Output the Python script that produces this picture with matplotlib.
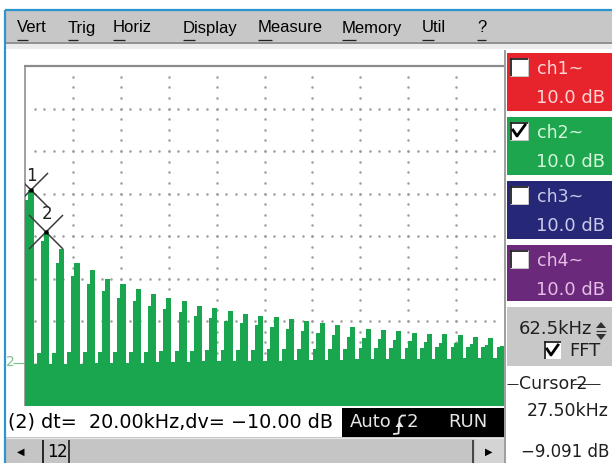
import numpy as np
import matplotlib
matplotlib.use('Agg')
import matplotlib.pyplot as plt
from matplotlib.patches import Rectangle, Polygon

# ---------------- data ----------------
freq_khz = [7.5, 27.5, 47.5, 67.5, 87.5, 107.5, 127.5, 147.5, 167.5, 187.5,
            207.5, 227.5, 247.5, 267.5, 287.5, 307.5, 327.5, 347.5, 367.5, 387.5,
            407.5, 427.5, 447.5, 467.5, 487.5, 507.5, 527.5, 547.5, 567.5, 587.5,
            607.5, 627.5]
peak_db = [0.9, -9.1, -13.0, -16.3, -18.1, -20.0, -21.2, -22.4, -23.6, -24.5,
           -25.2, -26.4, -26.9, -27.6, -28.3, -28.8, -29.0, -29.5, -29.9, -30.4,
           -30.9, -31.4, -31.8, -32.1, -32.3, -32.8, -33.0, -33.0, -33.2, -33.7,
           -34.0, -34.3]
step_db = [-1.6, -11.1, -16.3, -19.3, -21.2, -22.9, -24.5, -25.2, -26.4, -27.1,
           -27.8, -28.8, -29.2, -29.9, -30.4, -30.9, -31.4, -31.8, -32.3, -32.8,
           -33.2, -33.7, -34.0, -34.2, -34.5, -34.7, -34.9, -35.1, -35.1, -35.4,
           -35.6, -35.8]
shoulder_db = [-37.5, -37.5, -37.5, -37.4, -37.4, -37.3, -37.3, -37.2, -37.2, -37.1,
               -37.0, -37.0, -36.9, -36.9, -36.8, -36.8, -36.7, -36.7, -36.6, -36.6,
               -36.5, -36.5, -36.4, -36.4, -36.3, -36.3, -36.3, -36.2, -36.2, -36.2,
               -36.1, -36.1]
floor_db = [-40.1, -40.1, -40.0, -40.0, -39.9, -39.9, -39.8, -39.8, -39.7, -39.6,
            -39.6, -39.5, -39.5, -39.4, -39.4, -39.3, -39.3, -39.2, -39.2, -39.1,
            -39.1, -39.0, -39.0, -39.0, -38.9, -38.9, -38.9, -38.9, -38.8, -38.8,
            -38.8, -38.8]
cursor_khz = [7.5, 27.5]
cursor_db = [0.909, -9.091]
cursor_labels = ['1', '2']

menu_items = ['Vert', 'Trig', 'Horiz', 'Display', 'Measure', 'Memory', 'Util', '?']
channels = ['ch1~', 'ch2~', 'ch3~', 'ch4~']
channel_scale = ['10.0 dB', '10.0 dB', '10.0 dB', '10.0 dB']
channel_checked = [False, True, False, False]

# ---------------- figure ----------------
W, H = 612, 463
fig = plt.figure(figsize=(W / 100, H / 100), dpi=100)
fig.patch.set_facecolor('white')
bg = fig.add_axes([0, 0, 1, 1])
bg.set_xlim(0, W)
bg.set_ylim(H, 0)
bg.axis('off')

GREEN = '#19a64f'
SANS = ['DejaVu Sans']


def rect(x0, y0, x1, y1, color, z=1):
    bg.add_patch(Rectangle((x0, y0), x1 - x0, y1 - y0, facecolor=color,
                           edgecolor='none', zorder=z))


def line(xs, ys, color, lw=1.0, z=3):
    bg.plot(xs, ys, color=color, lw=lw * 0.72, zorder=z, solid_capstyle='butt')


def txt(x, y, s, size=13, color='black', ha='left', fam=SANS, z=5, **kw):
    return bg.text(x, y, s, fontsize=size, color=color, ha=ha, va='center',
                   family=fam, zorder=z, **kw)


# outer blue frame
line([5, 5], [10, H], '#2a95cf', 2.2)
line([5, W], [10, 10], '#2a95cf', 2.2)

# menu bar
rect(6, 11, W, 42, '#c7c7c7')
line([6, W], [42.5, 42.5], '#6e6e6e', 1.5)
rect(6, 43.5, W, 49, '#ececec')
menu_x = [17, 68, 113, 183, 258, 342, 422, 477]
fig.canvas.draw()
rend = fig.canvas.get_renderer()
inv = bg.transData.inverted()
for mx, name in zip(menu_x, menu_items):
    txt(mx, 28, name, size=12, fam=['Liberation Sans', 'DejaVu Sans'])
    t = txt(mx, 28, name[0], size=12, fam=['Liberation Sans', 'DejaVu Sans'], alpha=0)
    bb = t.get_window_extent(rend)
    (x0, _), (x1, _) = inv.transform([[bb.x0, bb.y0], [bb.x1, bb.y1]])
    line([x0, x1], [40, 40], '#202020', 1.3)

# ---------------- plot area ----------------
PL, PR, PT, PB = 25, 504, 66, 406
ax = fig.add_axes([PL / W, (H - PB) / H, (PR - PL) / W, (PB - PT) / H])
ax.set_xlim(0, 625)
ax.set_ylim(-50, 30)
ax.set_axis_off()
ax.patch.set_alpha(0)

# dotted graticule
hx = np.arange(12.5, 625, 12.5)
for yv in np.arange(-40, 30, 10):
    ax.plot(hx, np.full(hx.shape, yv), ls='none', marker='o', ms=1.8,
            mec='none', mfc='#9c9c9c', zorder=0)
vy = np.arange(-47.5, 30, 2.5)
for xv in np.arange(62.5, 625, 62.5):
    ax.plot(np.full(vy.shape, xv), vy, ls='none', marker='o', ms=1.8,
            mec='none', mfc='#9c9c9c', zorder=0)

f = np.array(freq_khz)
base = -50
ax.bar(f - 2, np.array(floor_db) - base, width=20.3, bottom=base,
       color=GREEN, lw=0, zorder=2)
ax.bar(f - 9.5, np.array(shoulder_db) - base, width=5.2, bottom=base,
       color=GREEN, lw=0, zorder=2)
ax.bar(f - 5, np.array(step_db) - base, width=4.4, bottom=base,
       color=GREEN, lw=0, zorder=2)
ax.bar(f + 0.25, np.array(peak_db) - base, width=6.8, bottom=base,
       color=GREEN, lw=0, zorder=2)

# cursors
for cx, cy, lab, dy in zip(cursor_khz, cursor_db, cursor_labels, [5, 9]):
    ax.plot(cx, cy, marker='x', ms=25, mew=1.1, color='#3c3c3c', zorder=5)
    ax.plot(cx, cy, marker='s', ms=2.8, color='black', mec='none', zorder=6)
    ax.annotate(lab, (cx, cy), xytext=(0.5, dy * 0.72), textcoords='offset points',
                ha='center', va='bottom', fontsize=12, color='#202020',
                family=SANS, zorder=6)

# plot frame
line([PL - 1, PR], [66, 66], '#8c8c8c', 2.2, z=6)
line([PL, PL], [66, PB], '#8c8c8c', 1.6, z=6)
line([PR + 1, PR + 1], [50, H], '#a0a0a0', 2.0, z=6)

# channel-2 reference marker
txt(6, 362, '2', size=10, color='#7fc08f')
line([13, PL], [363, 363], '#7fc08f', 1.2)

# ---------------- status row ----------------
rect(6, 407, 342, 437, 'white')
txt(8, 422, '(2) dt=  20.00kHz,dv= \u221210.00 dB', size=13.8)
rect(342, 408, PR, 437, 'black', z=2)
txt(350, 422, 'Auto', size=13, color='#e6e6e6')
bg.plot([394, 398.5, 399.5, 402, 405], [434, 433.5, 418, 415.5, 415.5],
        color='#e6e6e6', lw=1.3, zorder=5)
bg.add_patch(Polygon([[395.5, 427], [403.5, 427], [399.5, 421]], closed=True,
                     facecolor='#e6e6e6', edgecolor='none', zorder=5))
txt(407, 422, '2', size=13, color='#e6e6e6')
txt(448, 422, 'RUN', size=13, color='#e6e6e6')

# scroll bar
rect(6, 437, PR, H, '#c5c5c5')
line([6, PR], [438, 438], '#e8e8e8', 1.2)
txt(17, 452, '\u25c0', size=7)
line([43, 43], [440, H], '#2a2a2a', 2.0)
txt(47, 452, '1', size=12)
txt(57, 452, '2', size=12)
line([69, 69], [440, H], '#2a2a2a', 1.8)
line([472.5, 472.5], [440, H], '#2a2a2a', 1.6)
rect(475, 439, PR, H, '#d4d4d4')
txt(485, 452, '\u25b6', size=7)

# ---------------- right panel ----------------
box_cols = ['#e7242c', '#1ea64f', '#262877', '#6a297b']
text_cols = ['#ffd6d6', '#d6f7dc', '#c9c9ea', '#e6bde6']
box_y = [(53, 111), (117, 175), (181, 239), (245, 301)]
for name, scale, chk, (y0, y1), bc, tc in zip(channels, channel_scale, channel_checked,
                                             box_y, box_cols, text_cols):
    rect(507, y0, W, y1, bc)
    # checkbox
    rect(510, y0 + 5, 528, y0 + 23, 'white', z=2)
    line([510, 528], [y0 + 5.5, y0 + 5.5], '#222222', 1.8)
    line([510.5, 510.5], [y0 + 5, y0 + 23], '#222222', 1.8)
    line([510, 528], [y0 + 22.5, y0 + 22.5], '#c8c8c8', 1.0)
    line([527.5, 527.5], [y0 + 5, y0 + 23], '#c8c8c8', 1.0)
    if chk:
        bg.plot([513, 517, 525], [y0 + 13, y0 + 19, y0 + 8], color='black',
                lw=2.0, zorder=4)
    txt(537, y0 + 16, name, size=12.5, color=tc)
    txt(605, y0 + 45, scale, size=13, color=tc, ha='right')

# timebase box
rect(507, 307, W, 366, '#c8c8c8')
txt(519, 329, '62.5kHz', size=13, color='#202020')
bg.add_patch(Polygon([[596, 328], [606, 328], [601, 322]], closed=True,
                     facecolor='#303030', edgecolor='none', zorder=5))
line([596, 606], [331, 331], '#303030', 1.2)
bg.add_patch(Polygon([[596, 334], [606, 334], [601, 340]], closed=True,
                     facecolor='#303030', edgecolor='none', zorder=5))
rect(544, 341, 561, 359, 'white', z=2)
line([544, 561], [341.5, 341.5], '#222222', 1.8)
line([544.5, 544.5], [341, 359], '#222222', 1.8)
bg.plot([547, 551, 558], [349, 355, 345], color='black', lw=2.0, zorder=4)
txt(569, 351, 'FFT', size=13, color='#202020')

# cursor readout
line([507, 518], [384, 384], '#303030', 1.0)
txt(519, 384, 'Cursor2', size=12.5, color='#202020')
line([572, 600], [384, 384], '#303030', 1.0)
txt(527, 411, '27.50kHz', size=12.5, color='#202020')
txt(521, 452, '\u22129.091 dB', size=12, color='#202020')

fig.savefig('out.png', dpi=100, facecolor='white')
